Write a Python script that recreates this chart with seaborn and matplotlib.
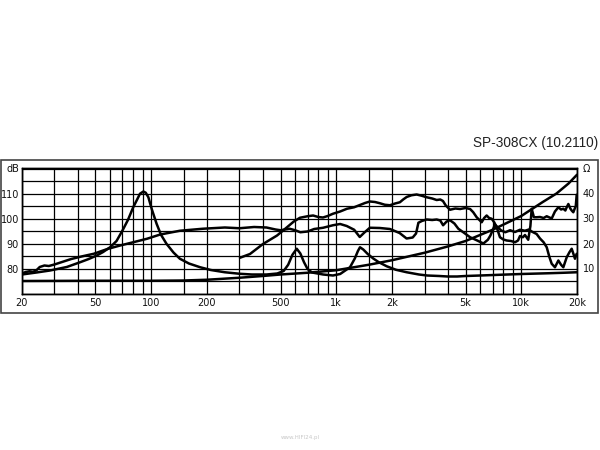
import numpy as np
import pandas as pd
import seaborn as sns
import matplotlib.pyplot as plt
from matplotlib.ticker import FixedLocator, NullFormatter
from matplotlib.patches import Rectangle

# --- data ---
# woofer SPL (Hz, dB)
woof_spl_f = [20, 21, 22, 23, 24, 25, 26.5, 28, 30, 33, 37, 42, 49, 58, 68, 80, 95, 112, 143, 190,
              250, 300, 360, 420, 470, 500, 560, 600, 640, 700, 760, 850, 960, 1050, 1140, 1250, 1340,
              1420, 1520, 1720, 1950, 2200, 2400, 2590, 2700, 2780, 2900, 3080, 3300, 3490, 3650, 3780,
              3950, 4120, 4350, 4570, 4900, 5290, 5740, 6240, 6600, 6810, 7050, 7200, 7500, 7800, 8200,
              8700, 9250, 9840, 10470, 11000, 11380, 12100, 12620, 13200, 13720, 14200, 14600, 15200,
              15860, 16400, 16870, 17600, 18200, 18720, 19100, 19500, 19920]
woof_spl_db = [78.0, 78.6, 78.9, 78.7, 79.3, 80.6, 81.2, 81.0, 81.6, 82.6, 83.8, 84.8, 85.9, 87.8, 89.2, 90.5,
               91.9, 93.6, 95.1, 95.9, 96.4, 96.1, 96.6, 96.4, 95.6, 95.3, 95.9, 95.3, 94.5, 94.8, 95.8,
               96.3, 97.3, 97.8, 97.0, 95.5, 92.6, 94.4, 96.3, 96.2, 95.8, 94.2, 92.0, 92.4, 94.0, 98.3,
               99.0, 99.6, 99.4, 99.6, 99.2, 97.3, 98.8, 99.3, 98.0, 95.9, 94.3, 92.5, 91.3, 90.0, 91.5,
               93.2, 95.8, 97.6, 96.3, 95.2, 94.5, 95.3, 94.6, 95.5, 95.1, 95.6, 94.8, 93.8, 92.0, 90.5,
               88.5, 84.5, 81.9, 80.5, 83.2, 81.5, 80.5, 84.5, 86.5, 87.9, 86.0, 83.9, 85.9]

# tweeter SPL (Hz, dB)
tw_spl_f = [302, 342, 402, 479, 542, 590, 637, 700, 750, 800, 848, 900, 960, 1050, 1143, 1250, 1343,
            1430, 1520, 1620, 1722, 1830, 1950, 2080, 2208, 2300, 2402, 2550, 2720, 2900, 3080, 3300,
            3490, 3650, 3774, 3900, 4120, 4400, 4670, 5000, 5290, 5500, 5740, 6110, 6300, 6500, 6700,
            6920, 7150, 7360, 7670, 8000, 8340, 8800, 9250, 9600, 9840, 10200, 10470, 10900, 11200,
            11380, 11700, 12100, 12620, 13200, 13720, 14600, 15200, 15860, 16400, 16870, 17300, 17600,
            17960, 18400, 18720, 19100, 19500, 19700, 19920]
tw_spl_db = [84.3, 85.8, 89.8, 93.2, 96.5, 98.8, 100.3, 100.9, 101.2, 100.6, 100.4, 101.0, 101.9, 102.8,
             103.9, 104.5, 105.4, 106.2, 106.8, 106.6, 106.1, 105.5, 105.3, 106.0, 106.5, 107.6, 108.6,
             109.3, 109.6, 109.1, 108.5, 108.0, 107.4, 107.6, 107.0, 105.3, 103.5, 104.0, 103.8, 104.2,
             103.8, 102.5, 100.5, 98.5, 100.2, 101.2, 100.2, 99.9, 98.4, 96.5, 92.5, 91.6, 91.2, 91.0,
             90.5, 91.2, 93.0, 92.5, 93.4, 91.5, 97.0, 103.9, 100.5, 100.5, 100.6, 100.2, 100.9, 100.0,
             102.8, 104.5, 103.6, 103.9, 103.2, 104.5, 105.8, 104.0, 103.2, 102.5, 104.2, 105.0, 109.5]

# woofer impedance (Hz, ohm)
woof_z_f = [20, 24, 28.4, 35, 41.3, 46, 50.8, 55, 60, 65, 70, 75, 80, 84, 87, 90.8, 93.5, 96.6, 101,
            107, 113, 121, 132, 143, 160, 184, 210, 250, 300, 350, 420, 480, 520, 550, 580, 612, 640,
            670, 700, 740, 850, 960, 1050, 1187, 1260, 1310, 1344, 1400, 1480, 1585, 1700, 1873, 2100,
            2402, 2800, 3100, 3600, 4000, 4500, 5000, 6000, 7700, 10000, 14000, 17000, 20000]
woof_z_ohm = [7.6, 8.4, 9.2, 10.6, 12.5, 13.8, 15.2, 16.6, 18.5, 21.0, 25.2, 29.5, 34.5, 37.6, 39.9, 40.8,
              40.3, 38.5, 33.5, 27.9, 23.5, 19.9, 16.4, 13.9, 12.0, 10.5, 9.4, 8.5, 7.9, 7.6, 7.6, 8.0,
              9.0, 11.5, 15.5, 17.9, 16.0, 12.5, 9.8, 8.4, 7.6, 7.2, 7.8, 10.5, 14.0, 17.0, 18.5, 17.6,
              15.8, 14.0, 12.5, 10.9, 9.5, 8.5, 7.6, 7.2, 7.0, 6.8, 6.8, 7.0, 7.2, 7.5, 7.8, 8.1, 8.3, 8.5]

# tweeter impedance (Hz, ohm)
tw_z_f = [20, 50, 100, 150, 200, 300, 400, 500, 700, 1000, 1500, 2000, 3000, 4000, 5000, 7000,
          10000, 13000, 15500, 18000, 20000]
tw_z_ohm = [5.0, 5.1, 5.1, 5.2, 5.5, 6.3, 7.0, 7.6, 8.3, 9.3, 11.5, 13.3, 16.3, 18.8, 21.0, 25.5,
            31.0, 36.5, 40.0, 44.0, 47.5]

# axis ticks / grid
x_label_f = [20, 50, 100, 200, 500, 1000, 2000, 5000, 10000, 20000]
x_label_txt = ['20', '50', '100', '200', '500', '1k', '2k', '5k', '10k', '20k']
x_grid_f = [20, 30, 40, 50, 60, 70, 80, 90, 100, 150,
            200, 300, 400, 500, 600, 700, 800, 900, 1000, 1500,
            2000, 3000, 4000, 5000, 6000, 7000, 8000, 9000, 10000, 20000]
db_ticks = [80, 90, 100, 110, 120]
db_labels = ['80', '90', '100', '110', 'dB']
ohm_ticks = [10, 20, 30, 40, 50]
ohm_labels = ['10', '20', '30', '40', 'Ω']

sns.set_style("white")
plt.rcParams['font.family'] = ['DejaVu Sans']

fig = plt.figure(figsize=(6, 4.5), dpi=100)
ax = fig.add_axes([21.8 / 600, 1 - 293.5 / 450, 555.2 / 600, 125 / 450])
ax.set_xscale('log')
ax.set_xlim(20, 20000)
ax.set_ylim(70, 120)
ax2 = ax.twinx()
ax2.set_ylim(0, 50)

line_kw = dict(color='black', lw=1.8, estimator=None, sort=False)
sns.lineplot(x=woof_spl_f, y=woof_spl_db, ax=ax, **line_kw)
sns.lineplot(x=tw_spl_f, y=tw_spl_db, ax=ax, **line_kw)
sns.lineplot(x=woof_z_f, y=woof_z_ohm, ax=ax2, **line_kw)
sns.lineplot(x=tw_z_f, y=tw_z_ohm, ax=ax2, **line_kw)

# grid + ticks
ax.set_xticks(x_label_f)
ax.set_xticklabels(x_label_txt)
ax.xaxis.set_minor_locator(FixedLocator(x_grid_f))
ax.xaxis.set_minor_formatter(NullFormatter())
ax.set_yticks(db_ticks)
ax.set_yticklabels(db_labels)
ax.yaxis.set_minor_locator(FixedLocator(list(range(70, 121, 5))))
ax.grid(which='both', color='black', lw=0.9)
ax.tick_params(which='both', length=0, labelsize=7, colors='#111111')
ax.tick_params(axis='x', pad=3)
ax.tick_params(axis='y', pad=2)
ax2.set_yticks(ohm_ticks)
ax2.set_yticklabels(ohm_labels)
ax2.tick_params(length=0, pad=4, labelsize=7, colors='#111111')
ax2.grid(False)
ax2.set_xlim(20, 20000)
for a in (ax, ax2):
    a.set_xlabel('')
    a.set_ylabel('')
    for s in a.spines.values():
        s.set_color('black')
        s.set_linewidth(1.0)

# outer frame, title, watermark
fig.add_artist(Rectangle((1 / 600, 1 - 313 / 450), 597 / 600, 153 / 450,
                         transform=fig.transFigure, fill=False, ec='#444444', lw=1.2))
fig.text(598 / 600, 1 - 143 / 450, 'SP-308CX (10.2110)', ha='right', va='center',
         fontsize=9.8, family='Liberation Sans', color='#222222')
fig.text(0.5, 1 - 437 / 450, 'www.HIFI24.pl', ha='center', va='center', fontsize=4, color='#c8c8c8')

fig.savefig('out.png', dpi=100, facecolor='white')
